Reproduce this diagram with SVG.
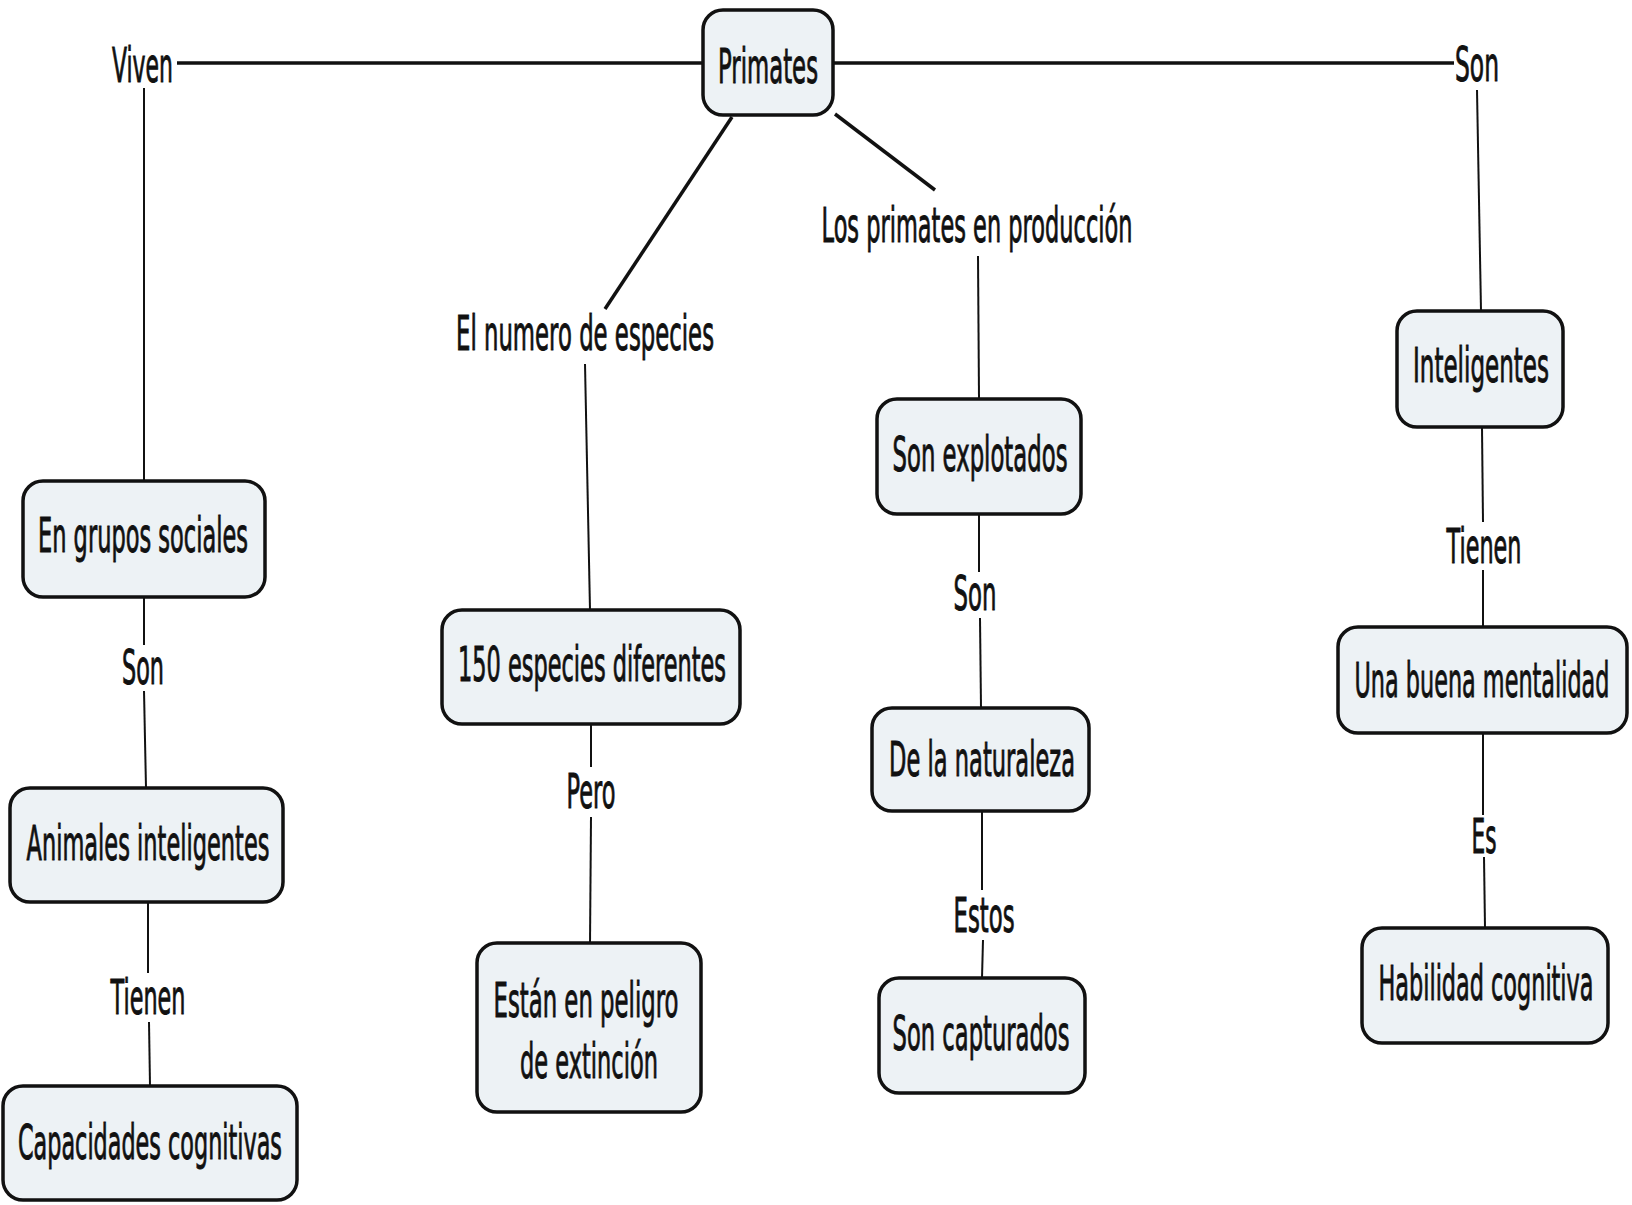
<svg xmlns="http://www.w3.org/2000/svg" width="1632" height="1205" viewBox="0 0 1632 1205">
<style>
.n rect{fill:#edf2f5;stroke:#111;stroke-width:3.5}
text{font-family:"DejaVu Sans","Liberation Sans",sans-serif;font-size:48px;fill:#111;stroke:#111;stroke-width:1;text-anchor:middle}
.thick{stroke:#111;stroke-width:3.5;fill:none}
.thin{stroke:#111;stroke-width:2;fill:none}
</style>
<rect width="1632" height="1205" fill="#fff"/>
<g id="connectors">
<line class="thick" x1="177" y1="63" x2="704" y2="63"/>
<line class="thick" x1="833" y1="63" x2="1454" y2="63"/>
<line class="thick" x1="732" y1="117" x2="605" y2="309"/>
<line class="thick" x1="835" y1="114" x2="935" y2="190"/>
<line class="thin" x1="144" y1="88" x2="144" y2="481"/>
<line class="thin" x1="1477" y1="90" x2="1481" y2="311"/>
<line class="thin" x1="585" y1="364" x2="590" y2="610"/>
<line class="thin" x1="978" y1="256" x2="979" y2="399"/>
<line class="thin" x1="979" y1="514" x2="979" y2="572"/>
<line class="thin" x1="980" y1="618" x2="981" y2="708"/>
<line class="thin" x1="982" y1="811" x2="982" y2="890"/>
<line class="thin" x1="983" y1="940" x2="982" y2="978"/>
<line class="thin" x1="144" y1="597" x2="144" y2="645"/>
<line class="thin" x1="144" y1="691" x2="146" y2="788"/>
<line class="thin" x1="148" y1="902" x2="148" y2="973"/>
<line class="thin" x1="149" y1="1022" x2="150" y2="1086"/>
<line class="thin" x1="591" y1="724" x2="591" y2="767"/>
<line class="thin" x1="591" y1="817" x2="590" y2="944"/>
<line class="thin" x1="1482" y1="427" x2="1483" y2="522"/>
<line class="thin" x1="1483" y1="570" x2="1483" y2="628"/>
<line class="thin" x1="1483" y1="732" x2="1483" y2="815"/>
<line class="thin" x1="1484" y1="857" x2="1485" y2="928"/>
</g>
<g id="labels">
<text transform="translate(142.5 82) scale(0.5 1)" textLength="122" lengthAdjust="spacingAndGlyphs">Viven</text>
<text transform="translate(1477 81) scale(0.5 1)" textLength="88" lengthAdjust="spacingAndGlyphs">Son</text>
<text transform="translate(585 350) scale(0.5 1)" textLength="516" lengthAdjust="spacingAndGlyphs">El numero de especies</text>
<text transform="translate(977 242) scale(0.5 1)" textLength="622" lengthAdjust="spacingAndGlyphs">Los primates en producción</text>
<text transform="translate(143 684) scale(0.5 1)" textLength="84" lengthAdjust="spacingAndGlyphs">Son</text>
<text transform="translate(148 1014) scale(0.5 1)" textLength="150" lengthAdjust="spacingAndGlyphs">Tienen</text>
<text transform="translate(591 808) scale(0.5 1)" textLength="98" lengthAdjust="spacingAndGlyphs">Pero</text>
<text transform="translate(975 610) scale(0.5 1)" textLength="86" lengthAdjust="spacingAndGlyphs">Son</text>
<text transform="translate(984 932) scale(0.5 1)" textLength="122" lengthAdjust="spacingAndGlyphs">Estos</text>
<text transform="translate(1484 563) scale(0.5 1)" textLength="150" lengthAdjust="spacingAndGlyphs">Tienen</text>
<text transform="translate(1484 853) scale(0.5 1)" textLength="50" lengthAdjust="spacingAndGlyphs">Es</text>
</g>
<g id="primates" class="n"><rect x="703" y="10" width="130" height="105" rx="20"/><text transform="translate(768 83) scale(0.5 1)" textLength="200" lengthAdjust="spacingAndGlyphs">Primates</text></g>
<g id="grupos" class="n"><rect x="23" y="481" width="242" height="116" rx="20"/><text transform="translate(143 552) scale(0.5 1)" textLength="420" lengthAdjust="spacingAndGlyphs">En grupos sociales</text></g>
<g id="animales" class="n"><rect x="10" y="788" width="273" height="114" rx="20"/><text transform="translate(148 860) scale(0.5 1)" textLength="486" lengthAdjust="spacingAndGlyphs">Animales inteligentes</text></g>
<g id="capacidades" class="n"><rect x="3" y="1086" width="294" height="114" rx="20"/><text transform="translate(150 1159) scale(0.5 1)" textLength="528" lengthAdjust="spacingAndGlyphs">Capacidades cognitivas</text></g>
<g id="especies150" class="n"><rect x="442" y="610" width="298" height="114" rx="20"/><text transform="translate(592 681) scale(0.5 1)" textLength="536" lengthAdjust="spacingAndGlyphs">150 especies diferentes</text></g>
<g id="peligro" class="n"><rect x="477" y="943" width="224" height="169" rx="20"/><text transform="translate(586 1017) scale(0.5 1)" textLength="370" lengthAdjust="spacingAndGlyphs">Están en peligro</text><text transform="translate(589 1078) scale(0.5 1)" textLength="276" lengthAdjust="spacingAndGlyphs">de extinción</text></g>
<g id="explotados" class="n"><rect x="877" y="399" width="204" height="115" rx="20"/><text transform="translate(980 471) scale(0.5 1)" textLength="350" lengthAdjust="spacingAndGlyphs">Son explotados</text></g>
<g id="naturaleza" class="n"><rect x="872" y="708" width="217" height="103" rx="20"/><text transform="translate(982 776) scale(0.5 1)" textLength="372" lengthAdjust="spacingAndGlyphs">De la naturaleza</text></g>
<g id="capturados" class="n"><rect x="879" y="978" width="206" height="115" rx="20"/><text transform="translate(981 1050) scale(0.5 1)" textLength="354" lengthAdjust="spacingAndGlyphs">Son capturados</text></g>
<g id="inteligentes" class="n"><rect x="1397" y="311" width="166" height="116" rx="20"/><text transform="translate(1481 382) scale(0.5 1)" textLength="272" lengthAdjust="spacingAndGlyphs">Inteligentes</text></g>
<g id="mentalidad" class="n"><rect x="1338" y="627" width="289" height="106" rx="20"/><text transform="translate(1482 697) scale(0.5 1)" textLength="510" lengthAdjust="spacingAndGlyphs">Una buena mentalidad</text></g>
<g id="habilidad" class="n"><rect x="1362" y="928" width="246" height="115" rx="20"/><text transform="translate(1486 1000) scale(0.5 1)" textLength="430" lengthAdjust="spacingAndGlyphs">Habilidad cognitiva</text></g>
</svg>
